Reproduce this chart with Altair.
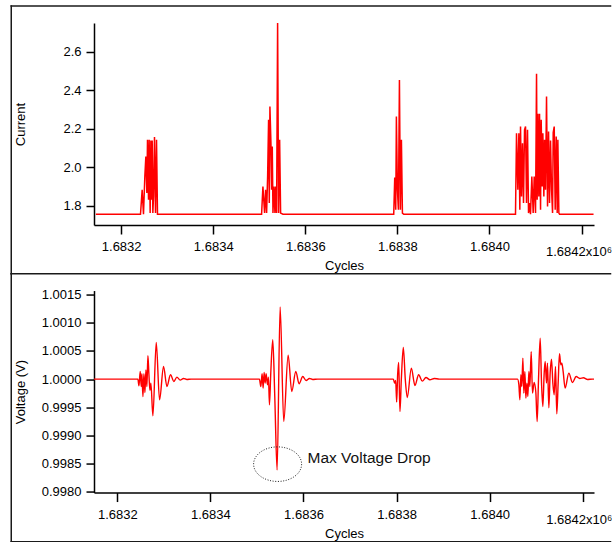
import altair as alt
import pandas as pd

FONT = "Liberation Sans"

# ---------------- data ----------------
# Top panel: current vs cycles
current_cycles = [
    1683145,
    1683242.0, 1683245.6, 1683248.5, 1683251.4, 1683253.6, 1683255.8, 1683257.2, 1683259.4,
    1683260.8, 1683263.0, 1683264.5, 1683265.9, 1683267.4, 1683268.8, 1683270.3, 1683272.4,
    1683274.6, 1683276.8, 1683278.9,
    1683505.0, 1683507.9, 1683511.5, 1683513.7, 1683515.9, 1683518.1, 1683520.2, 1683521.7,
    1683523.1, 1683525.3, 1683526.8, 1683528.2, 1683529.7, 1683531.8, 1683534.0, 1683535.5,
    1683537.6, 1683539.8, 1683542.0, 1683544.2, 1683546.3, 1683551.4,
    1683792.0, 1683794.2, 1683796.4, 1683797.8, 1683800.0, 1683802.2, 1683804.4, 1683806.5,
    1683808.7, 1683810.9, 1683813.8,
    1684056.5, 1684058.7, 1684061.6, 1684063.8, 1684065.9, 1684067.4, 1684069.6, 1684071.7,
    1684073.9, 1684076.1, 1684078.3, 1684080.4, 1684082.6, 1684084.8, 1684087.0, 1684089.1,
    1684092.0, 1684094.9, 1684097.1, 1684100.0, 1684102.2, 1684103.6, 1684105.1, 1684107.2,
    1684108.7, 1684110.9, 1684112.3, 1684114.5, 1684115.9, 1684118.1, 1684119.6, 1684121.7,
    1684123.9, 1684126.1, 1684128.3, 1684130.4, 1684132.6, 1684134.8, 1684137.0, 1684138.4,
    1684140.6, 1684142.7, 1684144.9, 1684147.1, 1684148.5, 1684150.7, 1684152.2,
    1684226,
]
current_values = [
    1.756,
    1.756, 1.883, 1.756, 1.952, 2.056, 1.866, 2.143, 1.831,
    2.143, 1.762, 2.139, 1.831, 2.139, 1.762, 1.848, 2.157,
    1.762, 2.143, 1.756,
    1.756, 1.900, 1.762, 1.883, 1.762, 1.952, 2.247, 1.814,
    2.316, 2.125, 1.883, 2.108, 1.762, 1.900, 1.762, 1.900,
    1.762, 2.750, 1.762, 2.143, 1.762, 1.756,
    1.756, 1.947, 1.779, 2.264, 1.883, 1.779, 2.454, 1.779,
    2.143, 1.762, 1.756,
    1.756, 2.177, 1.883, 2.177, 1.779, 2.212, 1.848, 2.125,
    1.814, 2.195, 2.212, 1.814, 2.195, 1.762, 1.814, 1.756,
    1.952, 1.762, 1.952, 1.762, 2.486, 1.831, 2.278, 1.848,
    2.278, 1.779, 2.247, 1.900, 2.177, 1.848, 2.143, 1.883,
    2.368, 1.796, 2.186, 1.814, 2.139, 1.883, 1.762, 2.181,
    2.212, 1.779, 2.160, 1.762, 2.143, 1.762, 1.756,
    1.756,
]

# Bottom panel: voltage vs cycles
voltage_cycles = [
    1683150,
    1683244.3, 1683246.5, 1683249.3, 1683251.5, 1683252.9, 1683255.1, 1683257.2, 1683259.4,
    1683261.5, 1683263.6, 1683265.8, 1683267.9, 1683270.1, 1683272.2, 1683276.5, 1683283.7,
    1683290.8, 1683299.4, 1683306.6, 1683314.4, 1683321.6, 1683328.0, 1683335.2, 1683342.3,
    1683349.5, 1683358.8,
    1683505.4, 1683508.3, 1683511.1, 1683513.3, 1683515.4, 1683517.6, 1683519.7, 1683522.6,
    1683524.7, 1683526.9, 1683529.7, 1683534.0, 1683538.3, 1683543.3, 1683549.8, 1683557.6,
    1683567.0, 1683574.8, 1683583.4, 1683590.6, 1683598.4, 1683605.6, 1683612.7, 1683619.9,
    1683630.6,
    1683793.0, 1683795.8, 1683798.0, 1683800.1, 1683802.2, 1683804.4, 1683807.2, 1683810.1,
    1683814.4, 1683818.7, 1683823.0, 1683831.6, 1683839.4, 1683847.3, 1683855.2, 1683863.0,
    1683871.6, 1683880.9, 1683891.6,
    1684059.8, 1684062.6, 1684064.8, 1684066.9, 1684069.0, 1684071.2, 1684073.3, 1684075.5,
    1684077.6, 1684079.8, 1684081.9, 1684084.1, 1684086.2, 1684089.1, 1684091.9, 1684095.5,
    1684099.1, 1684101.9, 1684104.8, 1684108.4, 1684111.3, 1684114.1, 1684117.0, 1684119.1,
    1684122.0, 1684124.1, 1684127.0, 1684129.8, 1684132.7, 1684135.6, 1684138.4, 1684141.3,
    1684144.1, 1684147.0, 1684149.9, 1684152.7, 1684154.9, 1684157.7, 1684162.0, 1684169.9,
    1684177.8, 1684185.6, 1684193.5, 1684201.4, 1684210.0, 1684220.7,
    1684224,
]
voltage_values = [
    1.0,
    1.0, 0.999882, 1.000136, 0.999870, 1.000095, 0.999693, 1.000095, 0.999764,
    1.000165, 0.999870, 1.000414, 1.000095, 0.999800, 0.999930, 0.999350, 1.000650,
    0.999634, 1.000225, 0.999870, 1.000077, 0.999959, 1.000035, 0.999982, 1.000012,
    0.999994, 1.0,
    1.0, 0.999870, 1.000095, 0.999840, 1.000118, 0.999929, 1.000095, 0.999900,
    1.000035, 0.999545, 1.000106, 1.000697, 0.999693, 0.998390, 1.001280, 0.999250,
    1.000426, 0.999781, 1.000136, 0.999917, 1.000047, 0.999976, 1.000012, 0.999994,
    1.0,
    1.0, 0.999929, 0.999976, 0.999592, 1.000077, 1.000296, 0.999427, 0.999988,
    1.000561, 0.999988, 0.999675, 1.000195, 0.999888, 1.000077, 0.999965, 1.000030,
    0.999988, 1.000012, 1.0,
    1.0, 0.999900, 0.999634, 1.000077, 0.999870, 1.000372, 0.999752, 1.000136,
    0.999663, 0.999929, 0.999693, 1.000136, 0.999870, 1.000485, 0.999752, 0.999941,
    0.999764, 0.999249, 0.999988, 1.000727, 0.999929, 0.999515, 1.000106, 1.000313,
    0.999929, 1.000284, 0.999492, 1.000106, 1.000355, 0.999929, 0.999722, 1.000225,
    0.999385, 0.999929, 1.000449, 1.000254, 1.000284, 1.000136, 0.999840, 1.000106,
    0.999941, 1.000047, 1.000012, 1.000024, 0.999994, 1.0,
    1.0,
]

x_ticks = [1683200, 1683400, 1683600, 1683800, 1684000, 1684200]
current_ticks = [1.8, 2.0, 2.2, 2.4, 2.6]
voltage_ticks = [0.9980, 0.9985, 0.9990, 0.9995, 1.0000, 1.0005, 1.0010, 1.0015]

ellipse_cycles = [1683544.4]
ellipse_voltage = [0.998493]
note_cycles = [1683608.6]
note_voltage = [0.998505]
note_text = ["Max Voltage Drop"]

# ---------------- chart ----------------
cur_df = pd.DataFrame({"cycles": current_cycles, "current": current_values})
volt_df = pd.DataFrame({"cycles": voltage_cycles, "voltage": voltage_values})
ell_df = pd.DataFrame({"cycles": ellipse_cycles, "voltage": ellipse_voltage})
note_df = pd.DataFrame({"cycles": note_cycles, "voltage": note_voltage, "text": note_text})

W, H = 500, 202
LAST = "datum.value == 1684200"
LABEL_EXPR = "datum.value == 1684200 ? '1.6842x10\u2076' : format(datum.value / 1000000, '.4f')"


def x_axis(pad, last_pad, last_off, title_y):
    return alt.Axis(
        values=x_ticks, labelExpr=LABEL_EXPR, title="Cycles", tickSize=9,
        labelPadding={"condition": {"test": LAST, "value": last_pad}, "value": pad},
        labelAlign={"condition": {"test": LAST, "value": "right"}, "value": "center"},
        labelOffset={"condition": {"test": LAST, "value": last_off}, "value": 0},
        labelFlush=False, labelOverlap=False, titleY=title_y, titleBaseline="alphabetic",
    )


def y_axis(title, vals, fmt):
    return alt.Axis(
        values=vals, format=fmt, title=title, tickSize=8, labelPadding=5,
        titleX=-70, titleBaseline="alphabetic", labelOverlap=False,
    )


blank = alt.Data(values=[{}])
FRAME = dict(color="#1a1a1a", strokeWidth=1.5, strokeCap="square")


def hrule(y, x1, x2):
    return alt.Chart(blank).mark_rule(**FRAME).encode(
        x=alt.value(x1), x2=alt.value(x2), y=alt.value(y), y2=alt.value(y))


def vrule(x, y1, y2):
    return alt.Chart(blank).mark_rule(**FRAME).encode(
        x=alt.value(x), x2=alt.value(x), y=alt.value(y1), y2=alt.value(y2))


FL, FR = -82.75, 516.5

top_line = alt.Chart(cur_df).mark_line(color="#ff0000", strokeWidth=1.5, clip=True).encode(
    x=alt.X("cycles:Q", scale=alt.Scale(domain=[1683141, 1684227], nice=False, zero=False),
            axis=x_axis(6, 11, 30, 44)),
    y=alt.Y("current:Q", scale=alt.Scale(domain=[1.700, 2.750], nice=False, zero=False),
            axis=y_axis("Current", current_ticks, ".1f")),
)
top = alt.layer(
    top_line,
    hrule(-17, FL, FR), vrule(FL, -17, 250.8), hrule(250.8, FL, FR),
).properties(width=W, height=H)

xs_b = alt.Scale(domain=[1683150, 1684224], nice=False, zero=False)
ys_b = alt.Scale(domain=[0.99799, 1.00157], nice=False, zero=False)
xa_b = x_axis(7, 12, 29, 45)
ya_b = y_axis("Voltage (V)", voltage_ticks, ".4f")
bot_line = alt.Chart(volt_df).mark_line(
    color="#ff0000", strokeWidth=1.4, interpolate="monotone", clip=True
).encode(
    x=alt.X("cycles:Q", scale=xs_b, axis=xa_b),
    y=alt.Y("voltage:Q", scale=ys_b, axis=ya_b),
)
ELLIPSE = ("M -1 0 C -1 -0.3977 -0.5523 -0.72 0 -0.72 C 0.5523 -0.72 1 -0.3977 1 0 "
           "C 1 0.3977 0.5523 0.72 0 0.72 C -0.5523 0.72 -1 0.3977 -1 0 Z")
ellipse = alt.Chart(ell_df).mark_point(
    shape=ELLIPSE, size=2304, filled=False, stroke="#222222", strokeWidth=1,
    strokeDash=[1, 1.6], opacity=1,
).encode(x=alt.X("cycles:Q", scale=xs_b, axis=xa_b), y=alt.Y("voltage:Q", scale=ys_b, axis=ya_b))
note = alt.Chart(note_df).mark_text(
    align="left", baseline="alphabetic", font=FONT, fontSize=15.5, color="#111111"
).encode(x=alt.X("cycles:Q", scale=xs_b, axis=xa_b), y=alt.Y("voltage:Q", scale=ys_b, axis=ya_b),
         text="text:N")

bottom = alt.layer(
    bot_line, ellipse, note,
    vrule(FL, -16.75, 251.2), hrule(251.2, FL, FR),
).properties(width=W, height=H)

chart = alt.vconcat(top, bottom, spacing=65.55, bounds="flush").properties(
    padding={"left": 10, "top": 4, "right": 0, "bottom": 0}
).configure_view(stroke=None).configure_axis(
    domainColor="black", domainWidth=1.5, tickColor="black", tickWidth=1.5,
    labelColor="black", titleColor="black", labelFont=FONT, titleFont=FONT,
    labelFontSize=13, titleFontSize=13, titleFontWeight="normal", grid=False,
)

chart.save("out.html", embed_options={"renderer": "svg", "actions": False})
